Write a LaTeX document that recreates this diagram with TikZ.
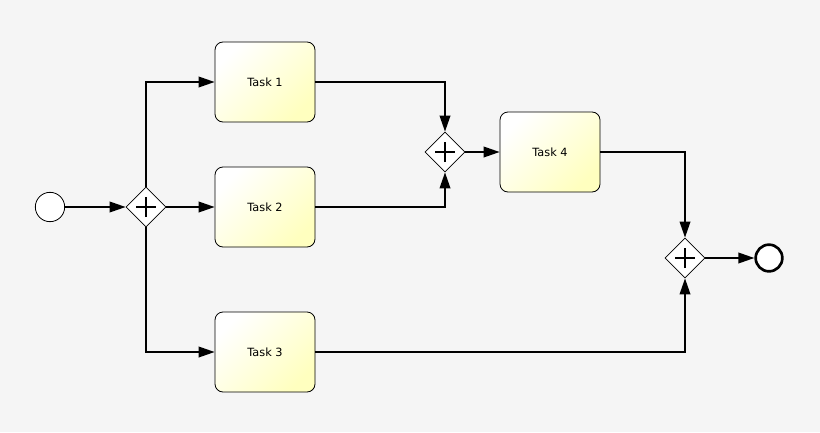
\documentclass[tikz,border=0pt]{standalone}
\usepackage{fontspec}
\setmainfont{DejaVu Sans}
\usetikzlibrary{shapes.geometric,arrows.meta}
\definecolor{bg}{HTML}{F5F5F5}
\begin{document}
\begin{tikzpicture}[x=0.75pt,y=-0.75pt,
 task/.style={draw,rounded corners=6pt,minimum width=75pt,minimum height=60pt,inner sep=0pt,line width=0.6pt,
   left color=white,right color=yellow!25,shading angle=45,font=\fontsize{8.5}{10}\selectfont},
 gw/.style={draw,diamond,minimum width=30pt,minimum height=30pt,inner sep=0pt,fill=white,line width=0.6pt},
 flow/.style={line width=1.2pt,-{Triangle[length=12pt,width=8pt]}}]
\fill[bg] (0,0) rectangle (820,432);
\useasboundingbox (0,0) rectangle (820,432);
\node[circle,draw,fill=white,minimum size=22pt,inner sep=0pt,line width=0.6pt] (s) at (50,207) {};
\node[gw] (g1) at (146,207) {};
\node[gw] (g2) at (445,152) {};
\node[gw] (g3) at (685,258) {};
\node[circle,draw,fill=white,minimum size=20pt,inner sep=0pt,line width=2pt] (e) at (769,258) {};
\node[task] (t1) at (265,82) {Task 1};
\node[task] (t2) at (265,207) {Task 2};
\node[task] (t3) at (265,352) {Task 3};
\node[task] (t4) at (550,152) {Task 4};
\foreach \g in {g1,g2,g3}{
 \draw[line width=2.2pt] ([xshift=-7.5pt]\g.center) -- ([xshift=7.5pt]\g.center);
 \draw[line width=2.2pt] ([yshift=-7.5pt]\g.center) -- ([yshift=7.5pt]\g.center);}
\draw[flow] (s) -- (g1);
\draw[flow] (g1) -- (t2);
\draw[flow] (g1.north) |- (t1);
\draw[flow] (g1.south) |- (t3);
\draw[flow] (t1) -| (g2.north);
\draw[flow] (t2) -| (g2.south);
\draw[flow] (g2) -- (t4);
\draw[flow] (t4) -| (g3.north);
\draw[flow] (t3) -| (g3.south);
\draw[flow] (g3) -- (e);
\end{tikzpicture}
\end{document}
